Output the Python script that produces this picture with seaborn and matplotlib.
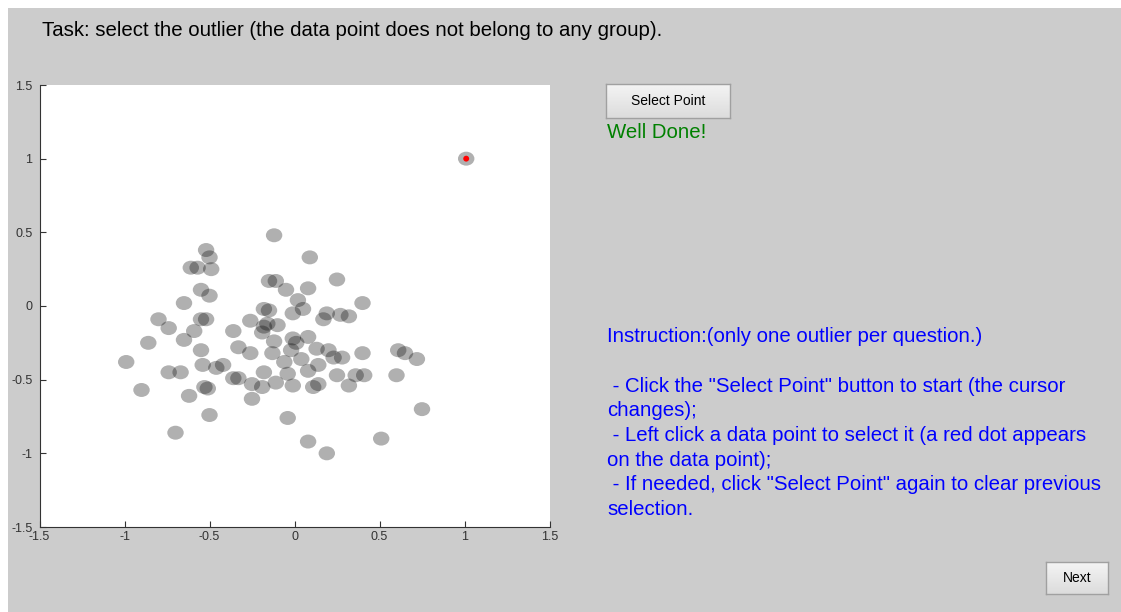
import numpy as np
import pandas as pd
import seaborn as sns
from matplotlib import pyplot as plt
from matplotlib.path import Path
from matplotlib.patches import Rectangle

# data
x_vals = [-0.12, -0.52, -0.50, 0.09, -0.61, -0.57, -0.49, -0.15, -0.11, 0.25,
          -0.05, 0.08, -0.55, -0.50, -0.65, 0.02, 0.40, -0.18, -0.15, -0.01,
          0.05, 0.19, 0.17, 0.27, 0.32, -0.80, -0.55, -0.52, -0.26, -0.16,
          -0.10, -0.18, -0.74, -0.59, -0.36, -0.19, 0.08, -0.01, -0.65, -0.12,
          -0.86, 0.01, -0.33, -0.55, -0.26, -0.13, -0.02, 0.13, 0.20, 0.23,
          0.28, 0.40, 0.61, 0.65, 0.72, -0.06, 0.04, -0.99, -0.54, -0.46,
          -0.42, -0.74, -0.67, -0.18, 0.08, 0.14, -0.04, 0.25, 0.36, 0.41,
          0.60, -0.36, -0.33, -0.11, -0.01, 0.11, 0.14, 0.32, -0.19, -0.25,
          -0.53, -0.51, -0.62, -0.90, -0.25, -0.50, -0.04, 0.75, -0.70, 0.08,
          0.51, 0.19]
y_vals = [0.48, 0.38, 0.33, 0.33, 0.26, 0.26, 0.25, 0.17, 0.17, 0.18,
          0.11, 0.12, 0.11, 0.07, 0.02, 0.04, 0.02, -0.02, -0.03, -0.05,
          -0.02, -0.05, -0.09, -0.06, -0.07, -0.09, -0.09, -0.09, -0.10, -0.12,
          -0.13, -0.14, -0.15, -0.17, -0.17, -0.18, -0.21, -0.22, -0.23, -0.24,
          -0.25, -0.25, -0.28, -0.30, -0.32, -0.32, -0.30, -0.29, -0.30, -0.35,
          -0.35, -0.32, -0.30, -0.32, -0.36, -0.38, -0.36, -0.38, -0.40, -0.42,
          -0.40, -0.45, -0.45, -0.45, -0.44, -0.40, -0.46, -0.47, -0.47, -0.47,
          -0.47, -0.49, -0.49, -0.52, -0.54, -0.55, -0.53, -0.54, -0.55, -0.53,
          -0.55, -0.56, -0.61, -0.57, -0.63, -0.74, -0.76, -0.70, -0.86, -0.92,
          -0.90, -1.00]
outlier_x = [1.01]
outlier_y = [1.00]

axis_ticks = [-1.5, -1, -0.5, 0, 0.5, 1, 1.5]
tick_labels = ['-1.5', '-1', '-0.5', '0', '0.5', '1', '1.5']

task_text = 'Task: select the outlier (the data point does not belong to any group).'
status_text = 'Well Done!'
instruction_lines = [
    'Instruction:(only one outlier per question.)',
    '',
    ' - Click the "Select Point" button to start (the cursor',
    'changes);',
    ' - Left click a data point to select it (a red dot appears',
    'on the data point);',
    ' - If needed, click "Select Point" again to clear previous',
    'selection.',
]

W, H = 1121, 612
FONT = 'Liberation Sans'


def px_rect(x0, y0, x1, y1):
    r"""
    Converts a pixel box (top-left origin) to figure fractions.

    """
    return [x0 / W, 1 - y1 / H, (x1 - x0) / W, (y1 - y0) / H]


def draw_button(fig, box, label):
    r"""
    Draws a flat gui-like push button with a light gradient.

    """
    bax = fig.add_axes(px_rect(*box))
    grad = np.linspace(0.955, 0.86, 50).reshape(-1, 1)
    bax.imshow(grad, aspect='auto', cmap='gray', vmin=0, vmax=1,
               extent=[0, 1, 0, 1], origin='upper')
    bax.set_xticks([])
    bax.set_yticks([])
    for sp in bax.spines.values():
        sp.set_color('#a0a0a0')
        sp.set_linewidth(1.0)
    bax.text(0.5, 0.5, label, ha='center', va='center', fontsize=10,
             family=FONT, color='black', transform=bax.transAxes)
    return bax


sns.set_style('white')
plt.rcParams['font.family'] = [FONT, 'DejaVu Sans']

fig = plt.figure(figsize=(W / 100, H / 100), dpi=100)
fig.patch.set_facecolor('white')
fig.patches.append(Rectangle((8 / W, 0), 1 - 8 / W, 1 - 8 / H,
                             transform=fig.transFigure, facecolor='#cccccc',
                             edgecolor='none', zorder=-10))

ax = fig.add_axes(px_rect(39.5, 85, 549.5, 527))
ax.set_facecolor('white')

# slightly flattened disc marker, like the reference
circ = Path.unit_circle()
ell = Path(circ.vertices * np.array([1.0, 0.85]), circ.codes)

df = pd.DataFrame({'x': x_vals, 'y': y_vals})
sns.scatterplot(data=df, x='x', y='y', ax=ax, marker=ell, s=140,
                color='black', alpha=0.31, edgecolor='none', linewidth=0)
sns.scatterplot(x=outlier_x, y=outlier_y, ax=ax, marker=ell, s=140,
                color='black', alpha=0.31, edgecolor='none', linewidth=0)
sns.scatterplot(x=outlier_x, y=outlier_y, ax=ax, marker='o', s=18,
                color='red', edgecolor='none', linewidth=0)

ax.set_xlim(-1.5, 1.5)
ax.set_ylim(-1.5, 1.5)
ax.set_xticks(axis_ticks)
ax.set_yticks(axis_ticks)
ax.set_xticklabels(tick_labels)
ax.set_yticklabels(tick_labels)
ax.set_xlabel('')
ax.set_ylabel('')
ax.tick_params(direction='in', length=4, width=0.8, colors='#333333',
               labelsize=9, bottom=True, left=True)
ax.tick_params(axis='x', pad=3)
ax.tick_params(axis='y', pad=5)
for side in ['top', 'right']:
    ax.spines[side].set_visible(False)
for side in ['left', 'bottom']:
    ax.spines[side].set_color('#333333')
    ax.spines[side].set_linewidth(0.8)

fig.text(42 / W, 1 - 30 / H, task_text, fontsize=14.7, color='black',
         ha='left', va='center')

draw_button(fig, (606, 84, 730, 118), 'Select Point')
draw_button(fig, (1046, 562, 1108, 594), 'Next')

fig.text(607 / W, 1 - 132 / H, status_text, fontsize=14.7, color='#008000',
         ha='left', va='center')

line_y = 337
for line in instruction_lines:
    if line:
        fig.text(607 / W, 1 - line_y / H, line, fontsize=14.7,
                 color='#0000ff', ha='left', va='center')
    line_y += 24.6

fig.savefig('out.png', dpi=100)
plt.close()
